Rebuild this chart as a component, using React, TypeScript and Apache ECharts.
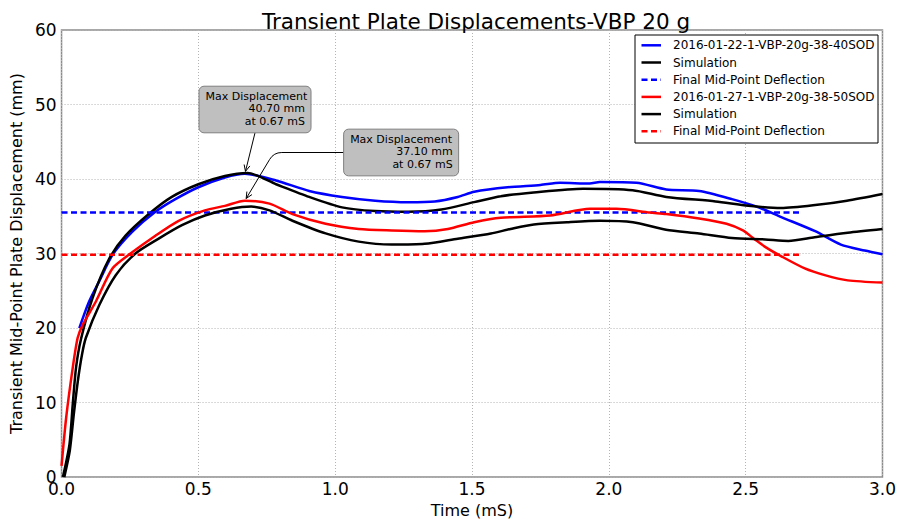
import React, { useEffect, useRef } from "react";
import * as echarts from "echarts";

// Test 2016-01-22 (38-40 SOD): measured displacement vs time
const exp1Time = [0.065, 0.1, 0.138, 0.186, 0.258, 0.343, 0.416, 0.5, 0.597, 0.67, 0.784, 0.905, 1.025, 1.146, 1.267, 1.364, 1.448, 1.508, 1.63, 1.75, 1.822, 1.93, 1.967, 2.101, 2.21, 2.33, 2.45, 2.547, 2.63, 2.754, 2.848, 2.935, 3.0];
const exp1Disp = [20, 23.5, 26.3, 29.8, 32.9, 35.6, 37.3, 38.9, 40.2, 40.7, 39.8, 38.4, 37.6, 37.1, 36.9, 37.0, 37.6, 38.3, 38.9, 39.2, 39.5, 39.4, 39.6, 39.5, 38.6, 38.4, 37.3, 36.2, 34.9, 33.0, 31.2, 30.4, 29.9];

// Simulation for the 38-40 SOD case
const sim1Time = [0.005, 0.029, 0.041, 0.053, 0.071, 0.113, 0.174, 0.234, 0.319, 0.403, 0.5, 0.597, 0.68, 0.784, 0.905, 1.025, 1.146, 1.267, 1.388, 1.508, 1.605, 1.725, 1.906, 2.087, 2.21, 2.39, 2.51, 2.63, 2.754, 2.87, 3.0];
const sim1Disp = [0, 4.4, 9.8, 14.7, 18.5, 24.0, 29.3, 32.4, 35.3, 37.6, 39.3, 40.4, 40.8, 39.3, 37.6, 36.2, 35.7, 35.6, 35.9, 36.9, 37.7, 38.2, 38.7, 38.5, 37.6, 37.0, 36.4, 36.1, 36.5, 37.1, 38.0];

// Test 2016-01-27 (38-50 SOD): measured displacement vs time
const exp2Time = [0.0, 0.017, 0.041, 0.059, 0.077, 0.126, 0.186, 0.252, 0.343, 0.428, 0.524, 0.597, 0.67, 0.76, 0.844, 0.965, 1.086, 1.207, 1.327, 1.412, 1.508, 1.605, 1.786, 1.931, 2.028, 2.149, 2.21, 2.33, 2.43, 2.49, 2.53, 2.571, 2.632, 2.716, 2.789, 2.873, 3.0];
const exp2Disp = [1.5, 8.0, 14.7, 18.7, 20.4, 23.6, 28.0, 30.0, 32.4, 34.4, 35.8, 36.4, 37.1, 36.7, 35.3, 34.0, 33.3, 33.1, 33.0, 33.3, 34.2, 34.8, 35.1, 36.0, 36.0, 35.5, 35.3, 34.7, 34.0, 33.1, 32.0, 30.9, 29.6, 28.0, 27.1, 26.4, 26.1];

// Simulation for the 38-50 SOD case
const sim2Time = [0.01, 0.03, 0.045, 0.06, 0.075, 0.089, 0.138, 0.198, 0.27, 0.355, 0.44, 0.524, 0.62, 0.693, 0.76, 0.844, 0.965, 1.086, 1.207, 1.327, 1.448, 1.569, 1.641, 1.726, 1.847, 1.967, 2.088, 2.209, 2.33, 2.45, 2.571, 2.656, 2.752, 2.873, 3.0];
const sim2Disp = [0, 3.5, 8.5, 13.0, 16.5, 18.7, 23.1, 27.1, 30.0, 32.0, 33.8, 35.1, 36.0, 36.3, 35.8, 34.4, 32.7, 31.6, 31.2, 31.3, 32.0, 32.7, 33.3, 33.9, 34.2, 34.4, 34.2, 33.2, 32.7, 32.1, 31.9, 31.7, 32.2, 32.8, 33.3];

// Final (permanent) mid-point deflections, drawn over this time span
const finalSpan = [0, 2.7];
const finalDeflection = [35.5, 29.85];

// Peak annotations: [time, displacement] and where the label box sits (data coords)
const peakTime = [0.67, 0.67];
const peakDisp = [40.7, 37.1];
const peakLabelAt = [
  [0.707, 49.33],
  [1.241, 43.56],
];

const seriesNames = [
  "2016-01-22-1-VBP-20g-38-40SOD",
  "Simulation",
  "Final Mid-Point Deflection",
  "2016-01-27-1-VBP-20g-38-50SOD",
  "Simulation",
  "Final Mid-Point Deflection",
];
const seriesColors = ["#0000ff", "#000000", "#0000ff", "#ff0000", "#000000", "#ff0000"];
const seriesDashed = [false, false, true, false, false, true];

const FONT = '"DejaVu Sans", "Liberation Sans", sans-serif';
const DASH = [6, 3.5];

const zip = (t: number[], d: number[]) => t.map((x, i) => [x, d[i]]);

export default function App() {
  const ref = useRef<HTMLDivElement>(null);

  useEffect(() => {
    if (!ref.current) return;
    const chart = echarts.init(ref.current, null, { renderer: "svg" });

    const seriesData = [
      zip(exp1Time, exp1Disp),
      zip(sim1Time, sim1Disp),
      finalSpan.map((t) => [t, finalDeflection[0]]),
      zip(exp2Time, exp2Disp),
      zip(sim2Time, sim2Disp),
      finalSpan.map((t) => [t, finalDeflection[1]]),
    ];

    chart.setOption({
      animation: false,
      backgroundColor: "#ffffff",
      textStyle: { fontFamily: FONT },
      title: {
        text: "Transient Plate Displacements-VBP 20 g",
        left: 471,
        textAlign: "center",
        top: 5,
        textStyle: { fontFamily: FONT, fontSize: 21.5, fontWeight: "normal", color: "#000" },
      },
      grid: {
        left: 57,
        right: 15,
        top: 30,
        bottom: 42,
        show: true,
        borderColor: "#8c8c8c",
        borderWidth: 1.5,
        backgroundColor: "transparent",
      },
      xAxis: {
        type: "value",
        min: 0,
        max: 3,
        interval: 0.5,
        name: "Time (mS)",
        nameLocation: "middle",
        nameGap: 22,
        nameTextStyle: { fontFamily: FONT, fontSize: 16, color: "#000" },
        axisLine: { show: false },
        axisTick: { show: false },
        axisLabel: {
          fontFamily: FONT,
          fontSize: 17,
          color: "#000",
          margin: 3,
          formatter: (v: number) => v.toFixed(1),
        },
        splitLine: { show: true, lineStyle: { color: "#b4b4b4", type: [1, 2], width: 1 } },
      },
      yAxis: {
        type: "value",
        min: 0,
        max: 60,
        interval: 10,
        name: "Transient Mid-Point Plate Displacement (mm)",
        nameLocation: "middle",
        nameGap: 31,
        nameTextStyle: { fontFamily: FONT, fontSize: 16, color: "#000" },
        axisLine: { show: false },
        axisTick: { show: false },
        axisLabel: { fontFamily: FONT, fontSize: 17, color: "#000", margin: 5 },
        splitLine: { show: true, lineStyle: { color: "#b4b4b4", type: [1, 2], width: 1 } },
      },
      series: seriesData.map((data, i) => ({
        type: "line",
        name: seriesNames[i],
        data,
        showSymbol: false,
        symbol: "none",
        smooth: seriesDashed[i] ? false : 0.25,
        silent: true,
        lineStyle: {
          color: seriesColors[i],
          width: 2.5,
          type: seriesDashed[i] ? DASH : "solid",
        },
        z: 2 + i,
      })),
    });

    // Legend, peak call-outs and arrows, placed with the chart's own scales
    const toPx = (p: number[]) => chart.convertToPixel({ gridIndex: 0 }, p) as number[];
    const graphics: any[] = [];

    const legX = 635;
    const legY = 35;
    const legW = 243;
    const rowH = 17.2;
    graphics.push({
      type: "rect",
      shape: { x: legX, y: legY, width: legW, height: 108 },
      style: { fill: "#ffffff", stroke: "#000000", lineWidth: 1 },
      z: 100,
    });
    seriesNames.forEach((name, i) => {
      const cy = legY + 10.3 + i * rowH;
      graphics.push({
        type: "line",
        shape: { x1: legX + 6.5, y1: cy, x2: legX + 26, y2: cy },
        style: {
          stroke: seriesColors[i],
          lineWidth: 2.5,
          lineDash: seriesDashed[i] ? DASH : null,
        },
        z: 101,
      });
      graphics.push({
        type: "text",
        x: legX + 38,
        y: cy,
        style: {
          text: name,
          fontFamily: FONT,
          fontSize: 12,
          fill: "#000",
          align: "left",
          verticalAlign: "middle",
        },
        z: 101,
      });
    });

    const arrowHead = (tip: number[], from: number[]) => {
      const dx = tip[0] - from[0];
      const dy = tip[1] - from[1];
      const len = Math.hypot(dx, dy);
      const ux = dx / len;
      const uy = dy / len;
      const L = 7;
      const a = (25 * Math.PI) / 180;
      const rot = (ang: number) => [
        tip[0] - L * (ux * Math.cos(ang) - uy * Math.sin(ang)),
        tip[1] - L * (uy * Math.cos(ang) + ux * Math.sin(ang)),
      ];
      return {
        type: "polyline",
        shape: { points: [rot(a), tip, rot(-a)] },
        style: { stroke: "#000", lineWidth: 1, fill: null },
        z: 90,
      };
    };

    const shrinkTo = (pt: number[], from: number[], d: number) => {
      const dx = pt[0] - from[0];
      const dy = pt[1] - from[1];
      const len = Math.hypot(dx, dy);
      return [pt[0] - (dx / len) * d, pt[1] - (dy / len) * d];
    };

    const boxSizes = [
      [112, 46.6],
      [115, 46.7],
    ];

    peakTime.forEach((t, k) => {
      const peak = toPx([t, peakDisp[k]]);
      const c = toPx(peakLabelAt[k]);
      const [bw, bh] = boxSizes[k];
      const bx = c[0] - bw / 2;
      const by = c[1] - bh / 2;

      if (k === 0) {
        const start = [c[0], by + bh];
        const tip = shrinkTo(peak, start, 2.5);
        graphics.push({
          type: "line",
          shape: { x1: start[0], y1: start[1], x2: tip[0], y2: tip[1] },
          style: { stroke: "#000", lineWidth: 1 },
          z: 90,
        });
        graphics.push(arrowHead(tip, start));
      } else {
        const start = [bx, c[1]];
        const tan = Math.tan((59 * Math.PI) / 180);
        const corner = [peak[0] + (peak[1] - start[1]) / tan, start[1]];
        const r = 8;
        const diag = [peak[0] - corner[0], peak[1] - corner[1]];
        const dl = Math.hypot(diag[0], diag[1]);
        const after = [corner[0] + (diag[0] / dl) * r, corner[1] + (diag[1] / dl) * r];
        const tip = shrinkTo(peak, corner, 2.5);
        graphics.push({
          type: "line",
          shape: { x1: start[0], y1: start[1], x2: corner[0] + r, y2: corner[1] },
          style: { stroke: "#000", lineWidth: 1 },
          z: 90,
        });
        graphics.push({
          type: "bezierCurve",
          shape: {
            x1: corner[0] + r,
            y1: corner[1],
            x2: after[0],
            y2: after[1],
            cpx1: corner[0],
            cpy1: corner[1],
          },
          style: { stroke: "#000", lineWidth: 1, fill: null },
          z: 90,
        });
        graphics.push({
          type: "line",
          shape: { x1: after[0], y1: after[1], x2: tip[0], y2: tip[1] },
          style: { stroke: "#000", lineWidth: 1 },
          z: 90,
        });
        graphics.push(arrowHead(tip, corner));
      }

      graphics.push({
        type: "rect",
        shape: { x: bx, y: by, width: bw, height: bh, r: 5 },
        style: { fill: "#bfbfbf", stroke: "#7f7f7f", lineWidth: 1 },
        z: 95,
      });
      const lines = [
        "Max Displacement",
        `${peakDisp[k].toFixed(2)} mm`,
        `at ${t.toFixed(2)} mS`,
      ];
      const lineGap = 12.5;
      lines.forEach((txt, j) => {
        const first = j === 0;
        graphics.push({
          type: "text",
          x: first ? bx + 6.5 : bx + bw - 6,
          y: by + 10.2 + j * lineGap,
          style: {
            text: txt,
            fontFamily: FONT,
            fontSize: 11,
            fill: "#000",
            align: first ? "left" : "right",
            verticalAlign: "middle",
          },
          z: 96,
        });
      });
    });

    chart.setOption({ graphic: graphics });

    return () => chart.dispose();
  }, []);

  return (
    <div
      ref={ref}
      style={{
        position: "fixed",
        left: 0,
        top: 0,
        width: 899,
        height: 523,
        background: "#ffffff",
      }}
    />
  );
}
